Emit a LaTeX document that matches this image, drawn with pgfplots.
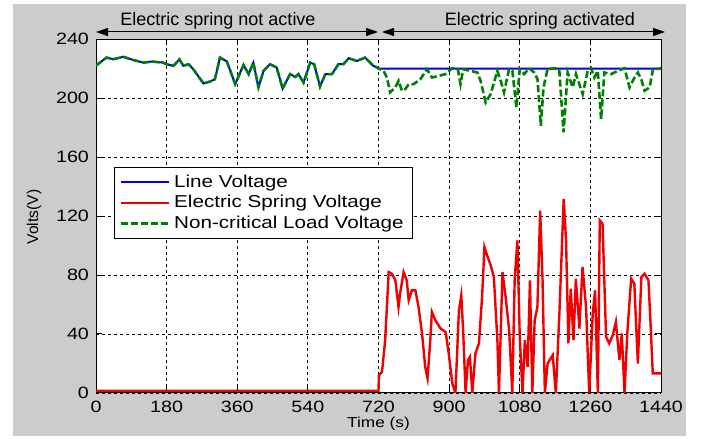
\documentclass[border=0pt]{standalone}
\usepackage{fontspec}
\setmainfont{Liberation Sans}
\newfontfamily\wide{Liberation Sans}[FakeStretch=1.2]
\usepackage{pgfplots}
\pgfplotsset{compat=1.18}
\usetikzlibrary{arrows.meta}
\definecolor{bg}{RGB}{204,204,204}
\definecolor{mgreen}{RGB}{0,128,0}
\definecolor{mblue}{RGB}{0,0,230}
\definecolor{mred}{RGB}{240,0,0}
\begin{document}
\begin{tikzpicture}[x=1pt,y=1pt]
\path[use as bounding box] (0,0) rectangle (353.5,219.5);
\fill[bg] (6.5,1.5) rectangle (343,217.5);
\begin{axis}[
  at={(48pt,23pt)}, anchor=south west, scale only axis,
  width=282.5pt, height=177pt,
  xmin=0, xmax=1440, ymin=0, ymax=240,
  xtick={0,180,...,1440}, ytick={0,40,...,240},
  grid=major,
  major grid style={black, line width=0.4pt, dash pattern=on 1.5pt off 1.5pt},
  axis line style={black, line width=0.5pt},
  tick style={black, line width=0.5pt},
  major tick length=3pt,
  axis background/.style={fill=white},
  /pgf/number format/assume math mode=true,
  /pgf/number format/set thousands separator={},
  ticklabel style={font=\wide\fontsize{8.2}{9}\selectfont},
  xticklabel style={yshift=-0.5pt},
  xlabel={Time (s)},
  ylabel={Volts(V)},
  xlabel style={at={(axis description cs:0.5,-0.0876)}, anchor=center, font=\wide\fontsize{7.2}{8}\selectfont},
  ylabel style={at={(axis description cs:-0.1097,0.497)}, anchor=center, font=\fontsize{7.8}{8}\selectfont},
  legend style={at={(0.032,0.638)}, anchor=north west, draw=black, line width=0.5pt, fill=white,
    font=\wide\fontsize{8.6}{9}\selectfont, row sep=-1.4pt, inner xsep=2.5pt, inner ysep=1.5pt},
  legend cell align=left,
  legend image code/.code={\draw[#1] (0pt,0pt) -- (24pt,0pt);},
]
\addplot[mblue, line width=1pt] coordinates {
(0,222)(27,227.4)(44,226.3)(69.5,227.9)(94.7,225.8)(121,224)(142,224.7)(171,224)(180,222.9)(197.5,221.8)(212.6,226.2)(222.7,221.8)(235.8,222.9)(248,219.5)(274,209.8)(291,211.2)(303,212.7)(316,227.4)(333.5,224.8)(354.7,209.4)(376,222.4)(389,216.2)(401,224)(414,207.3)(427,218.4)(443.4,222.9)(460.5,220.7)(475.6,206.4)(494.8,216.2)(508,214.3)(516,216.2)(529,210.5)(546,224)(556,222.9)(571,207.8)(584.5,216.2)(601.6,216.2)(617.7,222.9)(631,223)(644,227)(665,225.1)(686,227.4)(707,221.8)(716,220.7)(720,220)
(1440,220)};
\addlegendentry{Line Voltage}
\addplot[mred, line width=1.2pt] coordinates {
(0,1.5)(720,1.5)(721,12)(729,14.4)(737,35.8)(746,82)(754,80.9)(763,76.4)(771,58.3)(775,67.4)(784,82)(792,76.4)(797,62.9)(805,69.6)(814,69.6)(822,58.3)(831,40.3)(839,17.8)(845,9.9)(852,35.8)(856,55)(865,49.3)(878,43.7)(891,41.4)(899,26.8)(908,6.5)(916,0)(925,56.1)(931,66.2)(936,40.3)(942,0)(948,22.3)(953,24.5)(959,0)(967,26.8)(976,33.6)(984,65.1)(990,98.9)(997,93.3)(1006,86.5)(1014,78.6)(1023,35.8)(1027,0)(1036,82)(1044,65.1)(1053,42.6)(1061,0)(1067,76.4)(1074,103.4)(1080,38.1)(1087,0)(1093,35.8)(1100,17.8)(1106,76.4)(1112,0)(1118,49.3)(1125,58.3)(1132,123.7)(1138,77.5)(1144,0)(1151,20)(1164,25.7)(1172,0)(1181,53.8)(1192,131.6)(1198,103.4)(1204,33.6)(1210,70.7)(1217,35.8)(1223,77.5)(1232,43.7)(1240,85.4)(1249,58.3)(1257,0)(1266,53.8)(1272,69.6)(1279,0)(1284,117)(1291,114.7)(1300,38.1)(1308,33.6)(1317,39.2)(1325,48.2)(1334,22.3)(1340,40.3)(1347,0)(1354,40.3)(1364,77.5)(1372,74.1)(1381,20)(1390,78.6)(1398,80.9)(1408,76.4)(1413,49.3)(1419,13.3)(1432,13.3)(1440,13.3)};
\addlegendentry{Electric Spring Voltage}
\addplot[mgreen, line width=1.3pt, dash pattern=on 3.5pt off 1.5pt] coordinates {
(0,222)(27,227.4)(44,226.3)(69.5,227.9)(94.7,225.8)(121,224)(142,224.7)(171,224)(180,222.9)(197.5,221.8)(212.6,226.2)(222.7,221.8)(235.8,222.9)(248,219.5)(274,209.8)(291,211.2)(303,212.7)(316,227.4)(333.5,224.8)(354.7,209.4)(376,222.4)(389,216.2)(401,224)(414,207.3)(427,218.4)(443.4,222.9)(460.5,220.7)(475.6,206.4)(494.8,216.2)(508,214.3)(516,216.2)(529,210.5)(546,224)(556,222.9)(571,207.8)(584.5,216.2)(601.6,216.2)(617.7,222.9)(631,223)(644,227)(665,225.1)(686,227.4)(707,221.8)(716,220.7)(720,220)
(732.8,218.4)(741.3,213.9)(749.9,203.8)(762.7,207.2)(771.2,211.7)(779.7,204.9)(788.3,206)(796.8,209.4)(809.6,209.4)(826.7,212.8)(843.7,219.5)(856.5,213.9)(873.6,215)(890.6,216.2)(907.7,220.2)(922.2,219.5)(929,209.4)(935.8,219.5)(954.6,218.4)(971.7,217.3)(980.2,211.7)(993,197)(1005.8,202.6)(1022.8,218.4)(1031.4,211.7)(1039.9,203.8)(1052.7,219.5)(1061.2,218.4)(1071.5,193.6)(1080,219.5)(1091.1,216.2)(1103.9,220.2)(1116.7,217.3)(1125.2,212.8)(1133.7,181.2)(1140.6,207.2)(1150.8,219.5)(1167.9,220.2)(1180.6,219.5)(1191.7,176.7)(1202,217.3)(1214.8,207.2)(1223.3,216.2)(1240.4,202.6)(1253.2,218.4)(1261.7,220.2)(1270.2,213.9)(1278.8,218.4)(1287.3,185.7)(1295.8,217.3)(1312.9,216.2)(1330,218.4)(1347,220.2)(1359.8,207.2)(1372.6,213.9)(1381.1,217.3)(1389.6,212.8)(1398.2,204.9)(1411,207.2)(1419.5,219.5)(1440,220)};
\addlegendentry{Non-critical Load Voltage}
\end{axis}
\draw[{Triangle[length=6pt,width=4pt]}-{Triangle[length=6pt,width=4pt]}, line width=0.5pt] (48,203.5) -- (189,203.5);
\draw[{Triangle[length=6pt,width=4pt]}-{Triangle[length=6pt,width=4pt]}, line width=0.5pt] (191,203.5) -- (332.5,203.5);
\node[anchor=base, inner sep=0pt, font=\fontsize{9}{10}\selectfont] at (109,206.5) {Electric spring not active};
\node[anchor=base, inner sep=0pt, font=\fontsize{9}{10}\selectfont] at (270,206.5) {Electric spring activated};
\end{tikzpicture}
\end{document}
